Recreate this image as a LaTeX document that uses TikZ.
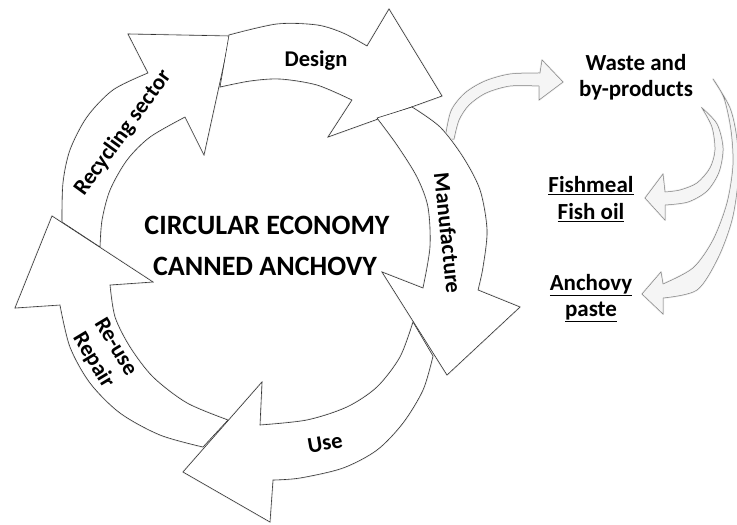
\documentclass[tikz,border=0pt]{standalone}
\usepackage{fontspec}
\setmainfont{Carlito}
\begin{document}
\begin{tikzpicture}[x=1pt,y=-1pt,
  ring/.style={fill=white,draw=black!80,line width=0.6pt,line join=miter},
  glow/.style={draw=black!9,line width=2pt,line join=round},
  side/.style={fill=black!4,draw=black!50,line width=0.5pt,line join=miter},
  sideglow/.style={draw=black!8,line width=2pt,line join=round},
  lbl/.style={font=\fontsize{22.5}{26}\selectfont\bfseries,inner sep=0pt,align=center},
  big/.style={font=\fontsize{28}{32}\selectfont\bfseries,inner sep=0pt},
  sidelbl/.style={font=\fontsize{23}{26.5}\selectfont\bfseries,inner sep=0pt,align=center}]
\useasboundingbox (0,0) rectangle (737,525);
% ---- side (grey) arrows
\def\arrA{plot[smooth] coordinates {(445,139) (451,111) (465,93) (485,81) (510,74) (540,73)} -- (542,60) -- (563,82) -- (539,100) -- plot[smooth] coordinates {(539,86) (510,86) (486,93) (469,105) (459,120) (454,139)} -- cycle}
\def\arrB{plot[smooth] coordinates {(702,108) (712,127) (715,150) (710,168) (697,183) (680,190) (665,192)} -- (663,174) -- (645,198) -- (665,220) -- plot[smooth] coordinates {(665,205) (688,202) (707,191) (719,172) (723,148) (717,124) (702,108)} -- cycle}
\def\arrC{plot[smooth] coordinates {(713,79) (724,98) (731,130) (733,165) (727,203) (713,240) (693,268) (663,284)} -- (661,272) -- (642,294) -- (663,314) -- plot[smooth] coordinates {(663,298) (697,290) (718,258) (732,220) (738,180) (737,140) (730,108) (713,79)} -- cycle}
\draw[sideglow] \arrA; \draw[sideglow] \arrB; \draw[sideglow] \arrC;
\draw[side] \arrA; \draw[side] \arrB; \draw[side] \arrC;
% ---- ring arrows
\def\arrRec{plot[smooth] coordinates {(62,222) (63,183) (70,150) (87,117) (113,90) (148,73)} -- (128,34) -- (230,36) -- (204,155) -- plot[smooth] coordinates {(185,117) (150,137) (127,160) (110,190) (102,220) (100,247)} -- cycle}
\def\arrDes{plot[smooth] coordinates {(229,35) (277,24) (317,25) (343,33) (367,46)} -- (389,9) -- (442,96) -- (328,137) -- plot[smooth] coordinates {(352,100) (317,85) (280,79) (250,81) (220,87)} -- cycle}
\def\arrMan{plot[smooth] coordinates {(412,107) (440,127) (463,157) (480,190) (487,230) (483,267) (478,290)} -- (520,307) -- (447,375) -- (382,272) -- plot[smooth] coordinates {(423,288) (430,247) (428,207) (417,177) (397,145) (377,118)} -- cycle}
\def\arrUse{plot[smooth] coordinates {(433,356) (423,390) (403,423) (377,450) (343,468) (300,478) (273,480)} -- (270,522) -- (183,472) -- (262,382) -- plot[smooth] coordinates {(260,425) (307,420) (347,407) (377,387) (400,357) (413,322)} -- cycle}
\def\arrReu{plot[smooth] coordinates {(203,447) (160,435) (120,413) (90,383) (70,347) (60,305)} -- (15,308) -- (52,216) -- (153,282) -- plot[smooth] coordinates {(110,285) (115,317) (130,347) (153,377) (187,403) (228,420)} -- cycle}
\draw[glow] \arrRec; \draw[glow] \arrDes; \draw[glow] \arrMan; \draw[glow] \arrUse; \draw[glow] \arrReu;
\draw[ring] \arrRec; \draw[ring] \arrDes; \draw[ring] \arrMan; \draw[ring] \arrUse; \draw[ring] \arrReu;
% ---- labels
\node[lbl] (design) at (316,61) {Design};
\node[lbl,rotate=54] (recycling) at (123,133) {Recycling sector};
\node[lbl,rotate=-84] (manufacture) at (448,233) {Manufacture};
\node[lbl,rotate=10] (use) at (325,443) {Use};
\node[lbl,rotate=-59] (reuse) at (104,354) {Re-use\\Repair};
\node[big] (title1) at (267,225) {CIRCULAR ECONOMY};
\node[big] (title2) at (265,266) {CANNED ANCHOVY};
\node[sidelbl] (waste) at (636,77) {Waste and\\by-products};
\node[sidelbl] (fish) at (591,199) {\underline{Fishmeal}\\\underline{Fish oil}};
\node[sidelbl] (paste) at (591,298) {\underline{Anchovy}\\\underline{paste}};
\end{tikzpicture}
\end{document}
